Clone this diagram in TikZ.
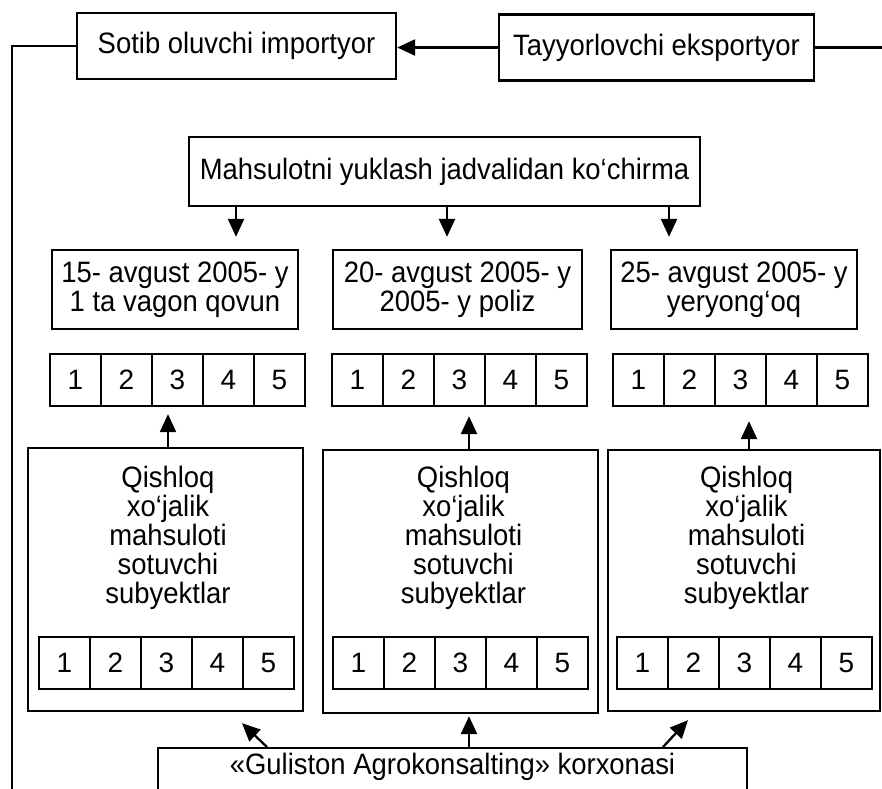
\documentclass[tikz,border=0pt]{standalone}
\usepackage{fontspec}
\setmainfont{Liberation Sans}[FakeStretch=0.93]
\newfontfamily\digitfont{Liberation Sans}
\usetikzlibrary{arrows.meta,calc}
\begin{document}
\begin{tikzpicture}[x=1pt,y=-1pt,line width=2.3pt,
  txt/.style={inner sep=0pt,align=center,font=\fontsize{29.5}{29}\selectfont},
  box/.style={txt,draw},
  cell/.style={draw,inner sep=0pt,minimum width=51pt,minimum height=52pt,font=\digitfont\fontsize{28}{29}\selectfont},
  arr/.style={-{Triangle[length=18pt,width=16pt]}}]
\useasboundingbox (0,0) rectangle (882,788);
\clip (0,0) rectangle (882,788);

% top row
\node[box,minimum width=319pt,minimum height=66pt] (sotib) at (236.5,46) {Sotib oluvchi importyor};
\node[box,minimum width=315pt,minimum height=66pt] (tayyor) at (656.5,47.5) {Tayyorlovchi eksportyor};
\coordinate (lft) at (12,800);
\coordinate (rgt) at (890,47.5);
\draw[arr] (tayyor.west) -- (tayyor.west -| sotib.east);
\draw (sotib.west) -| (lft);
\draw (tayyor.east) -- (tayyor.east -| rgt);

% schedule extract
\node[box,minimum width=511pt,minimum height=69pt] (mahs) at (444.5,171.5) {Mahsulotni yuklash jadvalidan ko‘chirma};

% date boxes
\node[box,minimum width=246pt,minimum height=79pt] (d1) at (175,289.5) {15- avgust 2005- y\\1 ta vagon qovun};
\node[box,minimum width=249pt,minimum height=79pt] (d2) at (457.5,289.5) {20- avgust 2005- y\\2005- y poliz};
\node[box,minimum width=246pt,minimum height=79pt] (d3) at (734,289.5) {25- avgust 2005- y\\yeryong‘oq};

\coordinate (m1) at ([xshift=-208.5pt]mahs.south);
\coordinate (m2) at ([xshift=2.5pt]mahs.south);
\coordinate (m3) at ([xshift=224.5pt]mahs.south);
\draw[arr,shorten >=12pt] (m1) -- (m1 |- d1.north);
\draw[arr,shorten >=12pt] (m2) -- (m2 |- d2.north);
\draw[arr,shorten >=12pt] (m3) -- (m3 |- d3.north);

% number rows
\foreach \i in {1,...,5} {
  \node[cell] (ra\i) at ({75.5+51*(\i-1)},380) {\i};
  \node[cell] (rb\i) at ({357.5+51*(\i-1)},380) {\i};
  \node[cell] (rc\i) at ({638.5+51*(\i-1)},380) {\i};
}

% big boxes
\node[draw,inner sep=0pt,minimum width=275pt,minimum height=263pt] (b1) at (165.5,579.5) {};
\node[draw,inner sep=0pt,minimum width=275pt,minimum height=263pt] (b2) at (460.5,581.5) {};
\node[draw,inner sep=0pt,minimum width=272pt,minimum height=261pt] (b3) at (744,580.5) {};
\node[txt] (t1) at (168,538) {Qishloq\\xo‘jalik\\mahsuloti\\sotuvchi\\subyektlar};
\node[txt] (t2) at (463.5,538) {Qishloq\\xo‘jalik\\mahsuloti\\sotuvchi\\subyektlar};
\node[txt] (t3) at (746.5,538) {Qishloq\\xo‘jalik\\mahsuloti\\sotuvchi\\subyektlar};

\foreach \i in {1,...,5} {
  \node[cell] (ia\i) at ({64.5+51*(\i-1)},663) {\i};
  \node[cell] (ib\i) at ({358.5+51*(\i-1)},663) {\i};
  \node[cell] (ic\i) at ({642.5+51*(\i-1)},663) {\i};
}

\coordinate (u1) at ([xshift=2.5pt]b1.north);
\coordinate (u2) at ([xshift=8.5pt]b2.north);
\coordinate (u3) at ([xshift=5pt]b3.north);
\draw[arr,shorten >=7pt] (u1) -- (u1 |- ra3.south);
\draw[arr,shorten >=9pt] (u2) -- (u2 |- rb3.south);
\draw[arr,shorten >=14pt] (u3) -- (u3 |- rc3.south);

% bottom enterprise
\node[draw,inner sep=0pt,minimum width=589pt,minimum height=80pt,anchor=north] (gul) at (452.5,747) {};
\node[txt] (gult) at (452.5,767) {«Guliston Agrokonsalting» korxonasi};

\draw[arr] ([xshift=-185.5pt]gul.north) -- ([xshift=76.5pt,yshift=-11pt]b1.south);
\draw[arr,shorten >=2pt] (gul.north -| u2) -- (u2 |- b2.south);
\draw[arr] ([xshift=210.5pt]gul.north) -- ([xshift=-56pt,yshift=-8pt]b3.south);
\end{tikzpicture}
\end{document}
